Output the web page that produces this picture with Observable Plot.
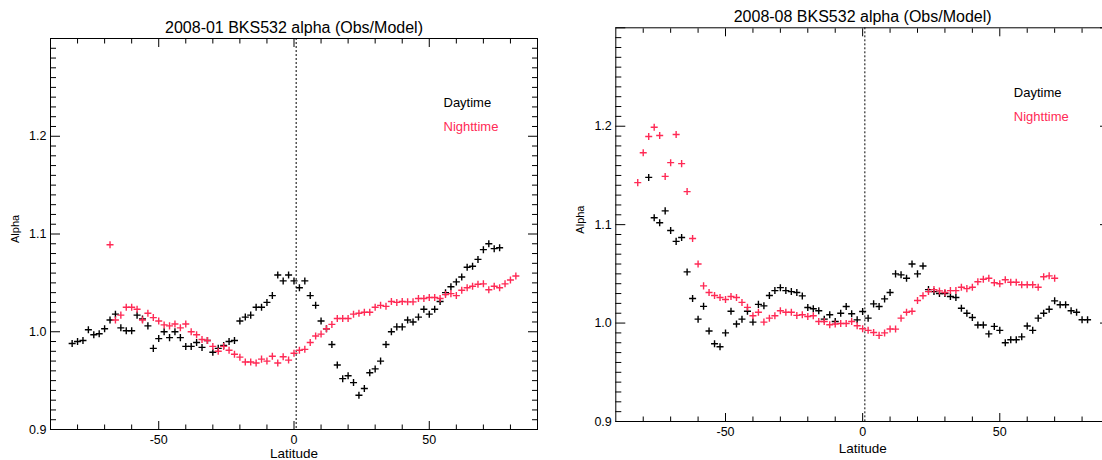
<!DOCTYPE html>
<html>
<head>
<meta charset="utf-8">
<script src="https://cdn.jsdelivr.net/npm/d3@7"></script>
<script src="https://cdn.jsdelivr.net/npm/@observablehq/plot@0.6"></script>
<style>
  html, body { margin: 0; padding: 0; background: #fff; }
  #wrap { position: relative; width: 1102px; height: 460px; overflow: hidden; }
  .panel { position: absolute; top: 0; width: 560px; height: 460px; }
  .panel svg { max-width: none !important; }
</style>
</head>
<body>
<div id="wrap"><div id="p1" class="panel" style="left:0px"></div><div id="p2" class="panel" style="left:560px"></div></div>
<script>
// ---------- data ----------
const titleJan = "2008-01 BKS532 alpha (Obs/Model)";
const titleAug = "2008-08 BKS532 alpha (Obs/Model)";
const legendDay = "Daytime";
const legendNight = "Nighttime";
const xLabel = "Latitude";
const yLabel = "Alpha";
const refLat = 0.8;

const xMajor = [-50, 0, 50];
const xMinor = [-80, -70, -60, -40, -30, -20, -10, 10, 20, 30, 40, 60, 70, 80];
const yMajor = [0.9, 1.0, 1.1, 1.2, 1.3];
const yMinor = [0.91,0.92,0.93,0.94,0.95,0.96,0.97,0.98,0.99,1.01,1.02,1.03,1.04,1.05,1.06,1.07,1.08,1.09,
                1.11,1.12,1.13,1.14,1.15,1.16,1.17,1.18,1.19,1.21,1.22,1.23,1.24,1.25,1.26,1.27,1.28,1.29];
const yTickLabels = ["0.9", "1.0", "1.1", "1.2"];

// 2008-01
const janDayLat = [-82,-80,-78,-76,-74,-72,-70,-68,-66,-64,-62,-60,-58,-56,-54,-52,-50,-48,-46,-44,-42,-40,-38,-36,-34,-32,-30,-28,-26,-24,-22,-20,-18,-16,-14,-12,-10,-8,-6,-4,-2,0,2,4,6,8,10,12,14,16,18,20,22,24,26,28,30,32,34,36,38,40,42,44,46,48,50,52,54,56,58,60,62,64,66,68,70,72,74,76];
const janDay = [0.988,0.990,0.991,1.002,0.997,0.998,1.003,1.012,1.018,1.004,1.001,1.001,1.017,1.013,1.006,0.983,0.993,1.000,0.994,1.000,0.994,0.985,0.985,0.989,0.984,0.991,0.979,0.983,0.986,0.990,0.991,1.011,1.015,1.017,1.025,1.025,1.030,1.037,1.058,1.052,1.058,1.052,1.045,1.052,1.037,1.027,1.011,1.003,0.987,0.966,0.952,0.955,0.948,0.935,0.942,0.958,0.962,0.970,0.987,1.000,1.005,1.005,1.012,1.010,1.015,1.023,1.018,1.023,1.031,1.040,1.046,1.051,1.056,1.066,1.067,1.074,1.084,1.090,1.085,1.086];
const janNightLat = [-68,-66,-64,-62,-60,-58,-56,-54,-52,-50,-48,-46,-44,-42,-40,-38,-36,-34,-32,-30,-28,-26,-24,-22,-20,-18,-16,-14,-12,-10,-8,-6,-4,-2,0,2,4,6,8,10,12,14,16,18,20,22,24,26,28,30,32,34,36,38,40,42,44,46,48,50,52,54,56,58,60,62,64,66,68,70,72,74,76,78,80,82];
const janNight = [1.089,1.012,1.017,1.025,1.025,1.023,1.012,1.019,1.0145,1.011,1.007,1.006,1.008,1.004,1.008,1.000,0.997,0.992,0.991,0.985,0.980,0.985,0.981,0.977,0.974,0.969,0.969,0.968,0.972,0.970,0.975,0.968,0.9745,0.971,0.978,0.981,0.982,0.989,0.9956,0.9976,1.003,1.0075,1.0136,1.0136,1.0136,1.018,1.019,1.020,1.020,1.025,1.027,1.026,1.031,1.030,1.031,1.0306,1.0306,1.034,1.034,1.035,1.035,1.034,1.038,1.039,1.037,1.0425,1.045,1.0466,1.0486,1.049,1.043,1.0466,1.045,1.049,1.053,1.057];

// 2008-08
const augDayLat = [-78,-76,-74,-72,-70,-68,-66,-64,-62,-60,-58,-56,-54,-52,-50,-48,-46,-44,-42,-40,-38,-36,-34,-32,-30,-28,-26,-24,-22,-20,-18,-16,-14,-12,-10,-8,-6,-4,-2,0,2,4,6,8,10,12,14,16,18,20,22,24,26,28,30,32,34,36,38,40,42,44,46,48,50,52,54,56,58,60,62,64,66,68,70,72,74,76,78,80,82];
const augDay = [1.148,1.107,1.102,1.114,1.094,1.083,1.087,1.052,1.025,1.004,1.017,0.992,0.979,0.976,0.990,1.012,0.999,1.004,1.012,1.001,1.019,1.0175,1.028,1.033,1.036,1.033,1.032,1.031,1.0276,1.0158,1.0145,1.0125,1.004,1.0084,1.0016,1.010,1.0168,1.0094,1.0033,1.0118,1.005,1.0195,1.0168,1.0246,1.031,1.050,1.049,1.0455,1.060,1.050,1.058,1.034,1.032,1.030,1.030,1.027,1.026,1.015,1.010,1.0057,0.998,0.998,0.989,0.9966,0.9926,0.980,0.983,0.983,0.986,0.997,0.9926,1.005,1.010,1.014,1.0226,1.0186,1.0186,1.0125,1.011,1.0034,1.0034];
const augNightLat = [-82,-80,-78,-76,-74,-72,-70,-68,-66,-64,-62,-60,-58,-56,-54,-52,-50,-48,-46,-44,-42,-40,-38,-36,-34,-32,-30,-28,-26,-24,-22,-20,-18,-16,-14,-12,-10,-8,-6,-4,-2,0,2,4,6,8,10,12,14,16,18,20,22,24,26,28,30,32,34,36,38,40,42,44,46,48,50,52,54,56,58,60,62,64,66,68,70];
const augNight = [1.1427,1.173,1.1896,1.199,1.1906,1.149,1.163,1.1916,1.162,1.1336,1.086,1.060,1.0378,1.031,1.028,1.026,1.024,1.027,1.026,1.021,1.016,1.0074,1.011,1.001,1.005,1.0074,1.0125,1.011,1.011,1.0078,1.0084,1.0067,1.0074,1.0016,1.0016,0.9983,0.999,0.9996,0.9996,1.0016,0.9973,0.9943,0.9926,0.9905,0.9875,0.990,0.994,0.9939,1.005,1.011,1.012,1.023,1.0277,1.032,1.034,1.0327,1.031,1.033,1.033,1.0364,1.035,1.0364,1.042,1.0445,1.0455,1.041,1.040,1.044,1.0415,1.0415,1.039,1.039,1.039,1.0364,1.047,1.048,1.0455];

// ---------- styles ----------
const DAY_COLOR = "#000000";
const NIGHT_COLOR = "#ff2a55";
const FONT = "'Liberation Sans', Arial, Helvetica, sans-serif";

function inwardTicksX(values, len) {
  const blank = () => "";
  return [
    Plot.axisX(values, {anchor: "bottom", tickSize: len, dy: -len, tickFormat: blank, label: null}),
    Plot.axisX(values, {anchor: "top", tickSize: len, dy: len, tickFormat: blank, label: null})
  ];
}
function inwardTicksY(values, len) {
  const blank = () => "";
  return [
    Plot.axisY(values, {anchor: "left", tickSize: len, dx: len, tickFormat: blank, label: null}),
    Plot.axisY(values, {anchor: "right", tickSize: len, dx: -len, tickFormat: blank, label: null})
  ];
}

function panel(o) {
  const day = o.dayLat.map((lat, i) => ({lat, v: o.day[i]}));
  const night = o.nightLat.map((lat, i) => ({lat, v: o.night[i]}));
  return Plot.plot({
    width: o.width, height: 460,
    marginLeft: o.ml, marginRight: o.mr, marginTop: o.mt, marginBottom: o.mb,
    x: {domain: [-90, 90], axis: null},
    y: {domain: [0.9, 1.3], axis: null},
    style: {fontFamily: FONT, fontSize: "12.5px", color: "#000", background: "transparent", overflow: "visible", maxWidth: "none"},
    marks: [
      Plot.ruleX([refLat], {stroke: "#000", strokeWidth: 1, strokeDasharray: "2,2"}),
      ...inwardTicksX(xMinor, 4.5),
      ...inwardTicksX(xMajor, 8),
      ...inwardTicksY(yMinor, 6),
      ...inwardTicksY(yMajor, 10),
      Plot.axisX(xMajor, {anchor: "bottom", tickSize: 0, tickPadding: 6, fontSize: 12.5, tickFormat: d => String(d), label: null}),
      Plot.axisY(yMajor.slice(0, yTickLabels.length), {anchor: "left", tickSize: 0, tickPadding: 4, fontSize: 12.5, tickFormat: (d, i) => yTickLabels[i], label: null}),
      Plot.frame({stroke: "#000", strokeWidth: 1}),
      Plot.dot(day, {x: "lat", y: "v", symbol: "plus", r: 2.4, stroke: DAY_COLOR, fill: "none", strokeWidth: 1.4}),
      Plot.dot(night, {x: "lat", y: "v", symbol: "plus", r: 2.4, stroke: NIGHT_COLOR, fill: "none", strokeWidth: 1.4}),
      Plot.text([o.title], {text: d => d, frameAnchor: "top", lineAnchor: "middle", dy: -11.1, fontSize: 16, fill: "#000"}),
      Plot.text([legendDay], {text: d => d, frameAnchor: "top-left", lineAnchor: "middle", textAnchor: "start", dx: o.legDx, dy: o.legDy, fontSize: 13, fill: DAY_COLOR}),
      Plot.text([legendNight], {text: d => d, frameAnchor: "top-left", lineAnchor: "middle", textAnchor: "start", dx: o.legDx, dy: o.legDy + 23.4, fontSize: 13, fill: NIGHT_COLOR}),
      Plot.text([xLabel], {text: d => d, frameAnchor: "bottom", lineAnchor: "middle", dy: o.xlDy, fontSize: 13.5, fill: "#000"}),
      Plot.text([yLabel], {text: d => d, frameAnchor: "left", lineAnchor: "middle", dx: -35, dy: 9, rotate: -90, fontSize: 11, fill: "#000"})
    ]
  });
}

document.getElementById("p1").append(panel({
  title: titleJan, dayLat: janDayLat, day: janDay, nightLat: janNightLat, night: janNight,
  width: 560, ml: 50, mr: 23, mt: 38, mb: 31, legDx: 393, legDy: 64.5, xlDy: 24.5
}));
document.getElementById("p2").append(panel({
  title: titleAug, dayLat: augDayLat, day: augDay, nightLat: augNightLat, night: augNight,
  width: 560, ml: 55.3, mr: 11, mt: 27.3, mb: 39, legDx: 398, legDy: 65.2, xlDy: 27.5
}));
</script>
</body>
</html>
